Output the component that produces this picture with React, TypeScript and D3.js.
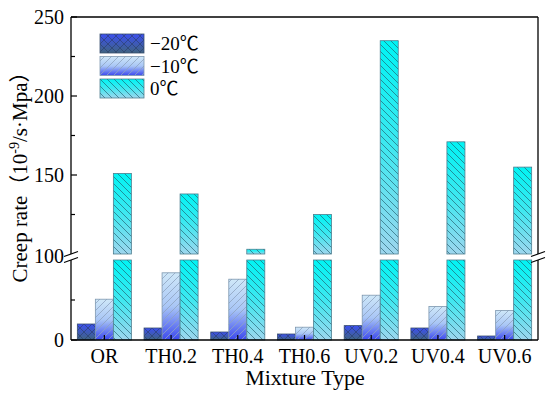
import React from "react";
import * as d3 from "d3";

const categories = ["OR", "TH0.2", "TH0.4", "TH0.6", "UV0.2", "UV0.4", "UV0.6"];
const seriesNames = ["−20℃", "−10℃", "0℃"];
const valuesM20 = [20, 15, 10, 7.5, 18, 15, 5];
const valuesM10 = [51, 84, 76, 16, 56, 42, 37];
const values0 = [151, 138, 103, 125, 235, 171, 155];
const lowTicks = [0, 100];
const lowMinor = [50];
const highTicks = [150, 200, 250];
const highMinor = [125, 175, 225];

const W = 550, H = 396;
const left = 71, right = 538, top = 17, bottom = 340;
const lowTop = 260, highBottom = 254;
const breakVal = 100;

export default function App() {
  const x = d3.scaleBand<string>().domain(categories).range([left, right]).paddingInner(0.19).paddingOuter(0.095);
  const xs = d3.scaleBand<number>().domain([0, 1, 2]).range([0, x.bandwidth()]).padding(0);
  const yLow = d3.scaleLinear().domain([0, breakVal]).range([bottom, lowTop]);
  const yHigh = d3.scaleLinear().domain([breakVal, 250]).range([highBottom, top]);
  const series = [valuesM20, valuesM10, values0];
  const grads = ["gM20", "gM10", "g0"];
  const hatches = ["hM20", "hM10", "h0"];
  const strokes = ["#3a5070", "#7f98b0", "#4f7f90"];

  const segs = (v: number) => {
    const out: { y0: number; y1: number }[] = [];
    if (v <= breakVal) out.push({ y0: yLow(v), y1: yLow(0) });
    else {
      out.push({ y0: yLow(breakVal), y1: yLow(0) });
      out.push({ y0: yHigh(v), y1: yHigh(breakVal) });
    }
    return out;
  };

  const font = '"Liberation Serif", "Times New Roman", "Noto Sans CJK SC", serif';
  const brk = (cx: number) => (
    <g>
      <line x1={cx - 7} y1={highBottom + 2.5} x2={cx + 7} y2={highBottom - 2.5} stroke="#000" strokeWidth={1.2} />
      <line x1={cx - 7} y1={lowTop + 2.5} x2={cx + 7} y2={lowTop - 2.5} stroke="#000" strokeWidth={1.2} />
    </g>
  );

  return (
    <svg width={W} height={H} style={{ position: "absolute", left: 0, top: 0, background: "#fff", fontFamily: font }}>
      <defs>
        <linearGradient id="gM20" x1="0" y1="0" x2="0" y2="1">
          <stop offset="0" stopColor="#3c4ff0" />
          <stop offset="1" stopColor="#3f6480" />
        </linearGradient>
        <linearGradient id="gM10" x1="0" y1="0" x2="0" y2="1">
          <stop offset="0" stopColor="#cfe8f8" />
          <stop offset="0.5" stopColor="#a9c6f6" />
          <stop offset="1" stopColor="#3b48ee" />
        </linearGradient>
        <linearGradient id="g0" x1="0" y1="0" x2="0" y2="1">
          <stop offset="0" stopColor="#00f4f4" />
          <stop offset="0.5" stopColor="#3fe8f0" />
          <stop offset="1" stopColor="#9ed6ee" />
        </linearGradient>
        <pattern id="hM20" patternUnits="userSpaceOnUse" width={8} height={8}>
          <path d="M0,0L8,8M-1,7L1,9M7,-1L9,1M0,8L8,0M-1,1L1,-1M7,9L9,7" stroke="#283a60" strokeWidth={0.8} strokeOpacity={0.7} />
        </pattern>
        <pattern id="hM10" patternUnits="userSpaceOnUse" width={7} height={7}>
          <path d="M0,7L7,0M-1,1L1,-1M6,8L8,6" stroke="#8ea3c0" strokeWidth={0.8} />
        </pattern>
        <pattern id="h0" patternUnits="userSpaceOnUse" width={7} height={7}>
          <path d="M0,0L7,7M-1,6L1,8M6,-1L8,1" stroke="#1f5a6a" strokeWidth={0.8} strokeOpacity={0.8} />
        </pattern>
      </defs>

      {categories.map((c, i) =>
        series.map((vals, s) =>
          segs(vals[i]).map((sg, k) => (
            <g key={`${c}-${s}-${k}`}>
              <rect x={(x(c) ?? 0) + (xs(s) ?? 0)} y={sg.y0} width={xs.bandwidth()} height={sg.y1 - sg.y0} fill={`url(#${grads[s]})`} />
              <rect x={(x(c) ?? 0) + (xs(s) ?? 0)} y={sg.y0} width={xs.bandwidth()} height={sg.y1 - sg.y0} fill={`url(#${hatches[s]})`} stroke={strokes[s]} strokeWidth={0.8} />
            </g>
          ))
        )
      )}

      {/* frame */}
      <line x1={left} y1={bottom} x2={right} y2={bottom} stroke="#000" strokeWidth={1.3} />
      <line x1={left} y1={top} x2={right} y2={top} stroke="#000" strokeWidth={1.3} />
      <line x1={left} y1={bottom} x2={left} y2={lowTop} stroke="#000" strokeWidth={1.3} />
      <line x1={left} y1={highBottom} x2={left} y2={top} stroke="#000" strokeWidth={1.3} />
      <line x1={right} y1={bottom} x2={right} y2={lowTop} stroke="#000" strokeWidth={1.3} />
      <line x1={right} y1={highBottom} x2={right} y2={top} stroke="#000" strokeWidth={1.3} />
      {brk(left)}
      {brk(right)}

      {/* y ticks */}
      {lowTicks.map((t) => (
        <g key={`lt${t}`}>
          {t !== breakVal && <line x1={left} x2={left + 6} y1={yLow(t)} y2={yLow(t)} stroke="#000" strokeWidth={1.2} />}
          <text x={64} y={t === breakVal ? highBottom + 2 : yLow(t)} dy="0.35em" textAnchor="end" fontSize={20} fontFamily={font}>{t}</text>
        </g>
      ))}
      {lowMinor.map((t) => (
        <line key={`lm${t}`} x1={left} x2={left + 4} y1={yLow(t)} y2={yLow(t)} stroke="#000" strokeWidth={1.2} />
      ))}
      {highTicks.map((t) => (
        <g key={`ht${t}`}>
          <line x1={left} x2={left + 6} y1={yHigh(t)} y2={yHigh(t)} stroke="#000" strokeWidth={1.2} />
          <text x={64} y={yHigh(t)} dy="0.35em" textAnchor="end" fontSize={20} fontFamily={font}>{t}</text>
        </g>
      ))}
      {highMinor.map((t) => (
        <line key={`hm${t}`} x1={left} x2={left + 4} y1={yHigh(t)} y2={yHigh(t)} stroke="#000" strokeWidth={1.2} />
      ))}

      {/* x ticks */}
      {categories.map((c) => {
        const cx = (x(c) ?? 0) + x.bandwidth() / 2;
        return (
          <g key={`xt${c}`}>
            <line x1={cx} x2={cx} y1={bottom} y2={bottom - 5} stroke="#000" strokeWidth={1.2} />
            <text x={cx} y={363} textAnchor="middle" fontSize={20} fontFamily={font}>{c}</text>
          </g>
        );
      })}

      <text x={305} y={385} textAnchor="middle" fontSize={22} fontFamily={font}>Mixture Type</text>
      <text transform="translate(27,172) rotate(-90)" textAnchor="middle" fontSize={21} fontFamily={font}>
        Creep rate（10<tspan dy={-8} fontSize={14}>-9</tspan><tspan dy={8}>/s·Mpa）</tspan>
      </text>

      {/* legend */}
      {seriesNames.map((n, s) => {
        const ly = 34 + s * 22.5;
        return (
          <g key={`lg${s}`}>
            <rect x={100} y={ly} width={44} height={19} fill={`url(#${grads[s]})`} />
            <rect x={100} y={ly} width={44} height={19} fill={`url(#${hatches[s]})`} stroke={strokes[s]} strokeWidth={0.8} />
            <text x={150} y={ly + 9.5} dy="0.35em" fontSize={19} fontFamily={font}>{n}</text>
          </g>
        );
      })}
    </svg>
  );
}
